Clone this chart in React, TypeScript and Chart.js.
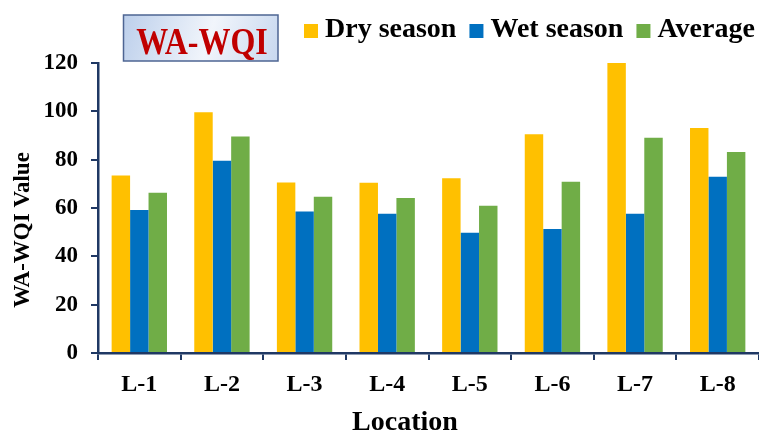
import React, { useEffect, useRef } from "react";
import { Chart, registerables } from "chart.js";

Chart.register(...registerables);

// Sampling locations and index values per season
const locations = ["L-1", "L-2", "L-3", "L-4", "L-5", "L-6", "L-7", "L-8"];
const drySeason = [73.5, 99.6, 70.6, 70.5, 72.3, 90.5, 120, 93.1];
const wetSeason = [59.2, 79.6, 58.6, 57.6, 49.8, 51.3, 57.6, 72.9];
const average = [66.3, 89.6, 64.7, 64.1, 60.9, 70.9, 89.1, 83.2];
const seriesNames = ["Dry season", "Wet season", "Average"];
const yTicks = [0, 20, 40, 60, 80, 100, 120];

const chartTitle = "WA-WQI";
const yAxisTitle = "WA-WQI Value";
const xAxisTitle = "Location";

const SERIF = '"Liberation Serif", "Times New Roman", serif';
const AXIS = "#1f3864";

// Boxed title, square-marker legend and axis titles
const decorations = {
  id: "decorations",
  afterDraw(chart: any) {
    const ctx = chart.ctx as CanvasRenderingContext2D;
    ctx.save();

    // title box
    const bx = 123.5, by = 15, bw = 154.5, bh = 46;
    const g = ctx.createLinearGradient(bx, by, bx + bw, by + bh);
    g.addColorStop(0, "#bccfeb");
    g.addColorStop(0.55, "#f1f5fb");
    g.addColorStop(1, "#c8d8ef");
    ctx.fillStyle = g;
    ctx.fillRect(bx, by, bw, bh);
    ctx.strokeStyle = "#4e6593";
    ctx.lineWidth = 1.5;
    ctx.strokeRect(bx, by, bw, bh);
    ctx.fillStyle = "#c00000";
    ctx.font = `bold 32px ${SERIF}`;
    ctx.textAlign = "center";
    ctx.textBaseline = "alphabetic";
    ctx.save();
    ctx.translate(202, 54);
    ctx.scale(1, 1.18);
    ctx.fillText(chartTitle, 0, 0);
    ctx.restore();

    // legend
    ctx.font = `bold 28px ${SERIF}`;
    ctx.textAlign = "left";
    let x = 304;
    chart.data.datasets.forEach((ds: any) => {
      ctx.fillStyle = ds.backgroundColor;
      ctx.fillRect(x, 24, 14, 14);
      x += 21;
      ctx.fillStyle = "#000";
      ctx.fillText(ds.label, x, 37);
      x += ctx.measureText(ds.label).width + 13;
    });

    // y axis title
    ctx.font = `bold 23px ${SERIF}`;
    ctx.textAlign = "center";
    ctx.save();
    ctx.translate(29, 230);
    ctx.rotate(-Math.PI / 2);
    ctx.fillText(yAxisTitle, 0, 0);
    ctx.restore();

    // x axis title
    ctx.font = `bold 28px ${SERIF}`;
    ctx.fillText(xAxisTitle, 405, 430);

    ctx.restore();
  },
};

export default function App() {
  const canvasRef = useRef<HTMLCanvasElement | null>(null);

  useEffect(() => {
    if (!canvasRef.current) return;
    const colors = ["#ffc000", "#0070c0", "#70ad47"];
    const values = [drySeason, wetSeason, average];
    const chart = new Chart(canvasRef.current, {
      type: "bar",
      data: {
        labels: locations,
        datasets: values.map((data, i) => ({
          label: seriesNames[i],
          data,
          backgroundColor: colors[i],
          borderWidth: 0,
          categoryPercentage: 0.67,
          barPercentage: 1.0,
        })),
      },
      options: {
        animation: false,
        responsive: false,
        devicePixelRatio: 1,
        layout: { padding: { top: 63, left: 0, right: 0, bottom: 0 } },
        plugins: {
          legend: { display: false },
          title: { display: false },
          tooltip: { enabled: false },
        },
        scales: {
          x: {
            grid: {
              offset: true,
              drawOnChartArea: false,
              drawTicks: true,
              tickLength: 7,
              tickColor: AXIS,
              tickWidth: 2,
              color: AXIS,
              lineWidth: 2,
            },
            border: { color: AXIS, width: 2.5 },
            ticks: {
              color: "#000",
              padding: 10,
              font: { family: SERIF, size: 24, weight: "bold" },
            },
            afterFit(scale: any) {
              scale.height = 79;
            },
          },
          y: {
            min: yTicks[0],
            max: yTicks[yTicks.length - 1],
            afterBuildTicks(scale: any) {
              scale.ticks = yTicks.map((v) => ({ value: v }));
            },
            grid: {
              drawOnChartArea: false,
              drawTicks: true,
              tickLength: 7,
              tickColor: AXIS,
              tickWidth: 2,
              color: AXIS,
              lineWidth: 2,
            },
            border: { color: AXIS, width: 2.5 },
            ticks: {
              color: "#000",
              padding: 13,
              font: { family: SERIF, size: 23, weight: "bold" },
            },
            afterFit(scale: any) {
              scale.width = 98;
            },
          },
        },
      },
      plugins: [decorations],
    });
    return () => chart.destroy();
  }, []);

  return (
    <div style={{ position: "absolute", left: 0, top: 0, width: 759, height: 432, background: "#fff" }}>
      <canvas ref={canvasRef} width={759} height={432} />
    </div>
  );
}
